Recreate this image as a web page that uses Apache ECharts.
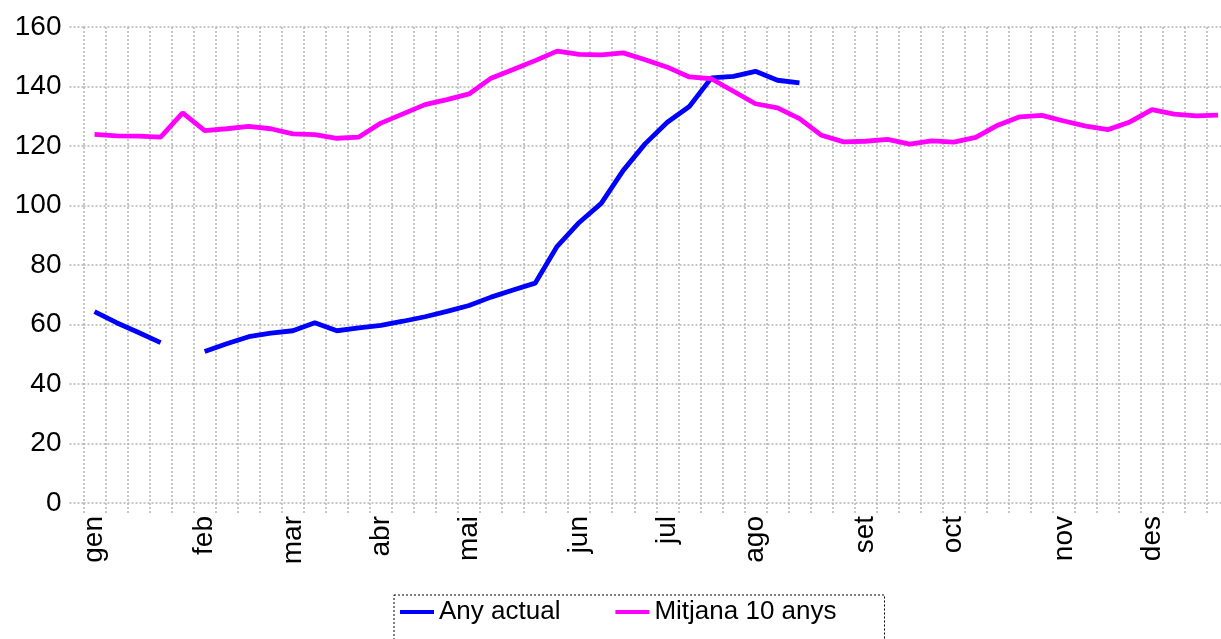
<!DOCTYPE html>
<html>
<head>
<meta charset="utf-8">
<script src="https://cdn.jsdelivr.net/npm/echarts@6/dist/echarts.min.js"></script>
<style>
  html, body { margin: 0; padding: 0; background: #fff; }
  #chart { width: 1221px; height: 639px; }
</style>
</head>
<body>
<div id="chart"></div>
<script>
// 52 setmanes, etiqueta de mes a la setmana on comença
var weeks = ['gen','','','','','feb','','','','mar','','','','abr','','','','mai','','','','','jun','','','','jul','','','','ago','','','','','set','','','','oct','','','','','nov','','','','des','','',''];

// Any actual (s'atura a la setmana 33, setmana 5 sense dada)
var anyActual = [64.3, 60.6, 57.3, 53.9, null, 50.9, 53.5, 55.9, 57.1, 57.9,
  60.6, 57.9, 58.9, 59.7, 61.1, 62.6, 64.4, 66.4, 69.2, 71.6,
  73.9, 86.3, 94.3, 100.7, 111.8, 120.8, 128.0, 133.3, 142.9, 143.4,
  145.1, 142.1, 141.2, null, null, null, null, null, null, null,
  null, null, null, null, null, null, null, null, null, null,
  null, null];

// Mitjana 10 anys
var mitjana10 = [123.9, 123.4, 123.3, 123.0, 131.1, 125.2, 125.8, 126.6, 125.8, 124.1,
  123.8, 122.6, 123.0, 127.7, 130.8, 133.9, 135.6, 137.5, 142.8, 145.7,
  148.7, 151.9, 150.8, 150.6, 151.3, 149.0, 146.5, 143.2, 142.6, 138.4,
  134.2, 132.8, 129.2, 123.6, 121.4, 121.6, 122.2, 120.6, 121.7, 121.3,
  122.9, 127.0, 129.8, 130.3, 128.4, 126.7, 125.5, 128.1, 132.2, 130.7,
  130.1, 130.4];

var gridStyle = { color: '#b4b4b4', width: 1.5, type: [2, 2] };
var font = '"Liberation Sans", Arial, sans-serif';

var chart = echarts.init(document.getElementById('chart'));
chart.setOption({
  animation: false,
  textStyle: { fontFamily: font, color: '#000' },
  grid: { left: 83.5, top: 27, height: 476, width: 1145.6, outerBoundsMode: 'none', containLabel: false },
  legend: {
    left: 394,
    top: 595,
    padding: [4, 48, 40, 6],
    borderColor: '#000',
    borderWidth: 1,
    borderType: [2, 2],
    itemGap: 55,
    itemWidth: 34,
    itemHeight: 4,
    icon: 'rect',
    textStyle: { fontSize: 26, color: '#000', fontFamily: font },
    data: ['Any actual', 'Mitjana 10 anys']
  },
  xAxis: {
    type: 'category',
    data: weeks,
    boundaryGap: true,
    axisLine: { show: false },
    axisTick: { show: true, interval: 0, length: 12, lineStyle: gridStyle },
    splitLine: { show: true, interval: 0, lineStyle: gridStyle },
    axisLabel: { interval: 0, rotate: 90, margin: 13, fontSize: 28, color: '#000', fontFamily: font }
  },
  yAxis: {
    type: 'value',
    min: 0,
    max: 160,
    interval: 20,
    axisLine: { show: false },
    axisTick: { show: true, length: 14, lineStyle: gridStyle },
    splitLine: { show: true, lineStyle: gridStyle },
    axisLabel: { margin: 22, fontSize: 28, color: '#000', fontFamily: font }
  },
  series: [
    {
      name: 'Any actual',
      type: 'line',
      data: anyActual,
      showSymbol: false,
      symbol: 'none',
      color: '#0000ff',
      lineStyle: { width: 4.8, color: '#0000ff' }
    },
    {
      name: 'Mitjana 10 anys',
      type: 'line',
      data: mitjana10,
      showSymbol: false,
      symbol: 'none',
      color: '#ff00ff',
      lineStyle: { width: 4.8, color: '#ff00ff' }
    }
  ]
});
</script>
</body>
</html>
